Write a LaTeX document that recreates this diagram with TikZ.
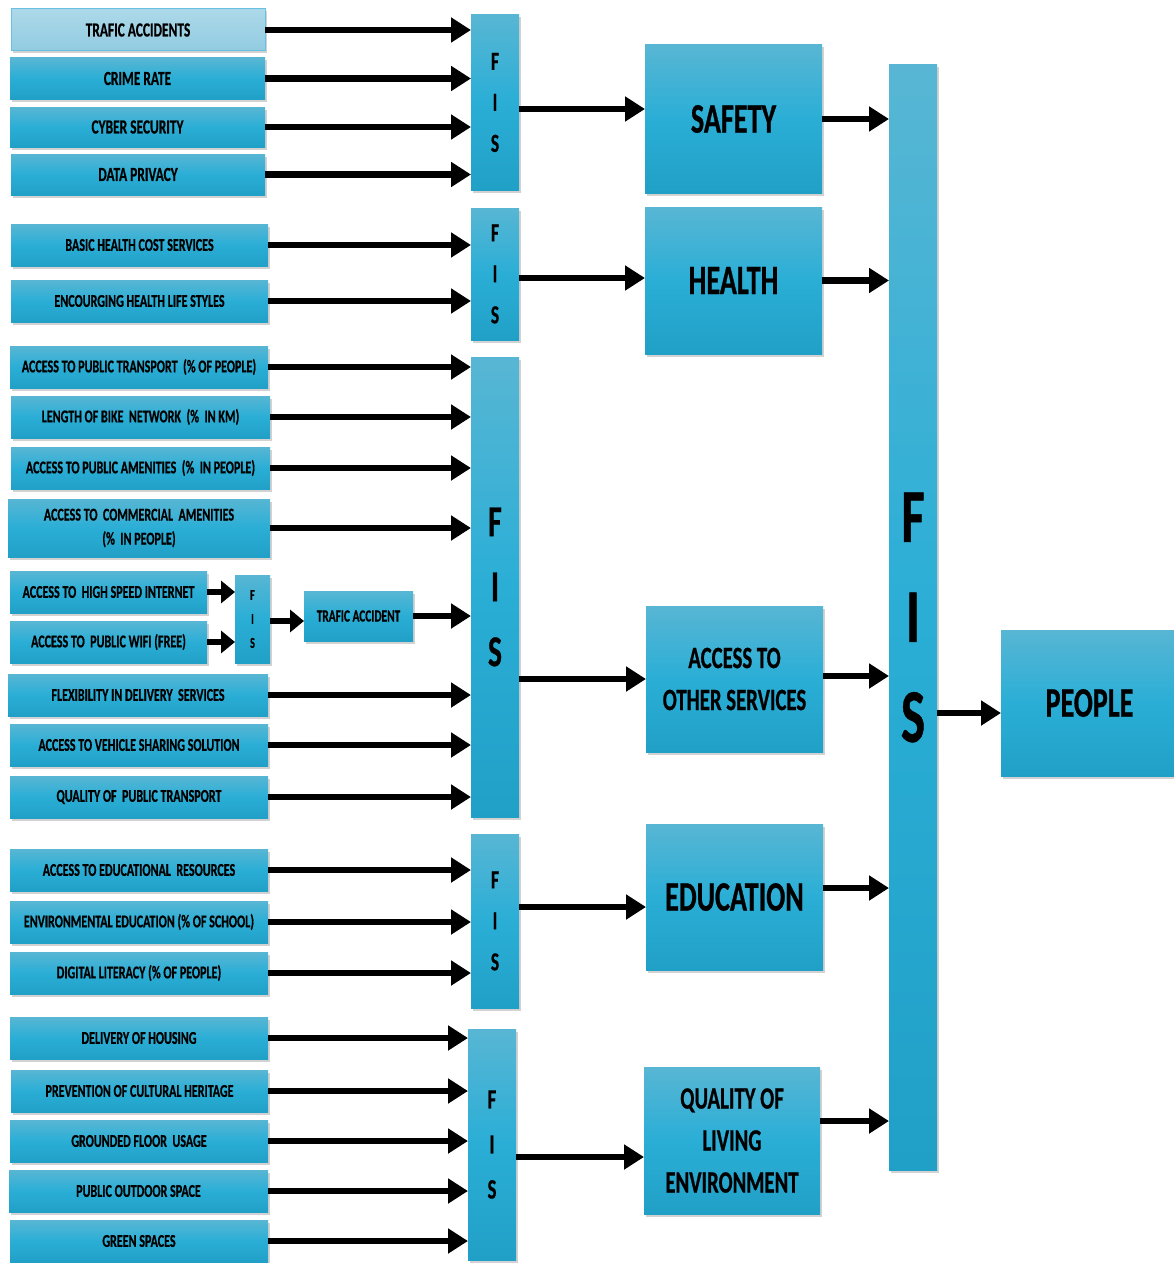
\documentclass[tikz,border=0pt]{standalone}
\usepackage{fontspec}
\setmainfont{Carlito}
\newfontfamily\cf[FakeStretch=0.67,BoldFeatures={FakeBold=0.6}]{Carlito}
\usetikzlibrary{arrows.meta,shadows}
\definecolor{btop}{RGB}{88,182,212}
\definecolor{bmid}{RGB}{42,174,214}
\definecolor{bbot}{RGB}{33,160,199}
\definecolor{ltop}{RGB}{172,217,233}
\definecolor{lbot}{RGB}{146,203,225}
\definecolor{lline}{RGB}{105,193,225}
\newcommand\fz[2]{\fontsize{#1}{#2}\selectfont}
\newcommand\bx[7][]{\node[box,minimum width={(#5)-(#3)},minimum height={(#6)-(#4)},#1] (#2) at ({((#3)+(#5))/2},{((#4)+(#6))/2}) {#7};}
\tikzset{
  box/.style={draw=none,top color=btop,bottom color=bbot,middle color=bmid,
    inner sep=0pt,outer sep=0pt,align=center,font=\cf\bfseries\fz{18}{24},
    drop shadow={shadow xshift=1.5pt,shadow yshift=-2.5pt,opacity=0.35}},
  lightbox/.style={top color=ltop,bottom color=lbot,middle color=ltop!50!lbot,draw=lline,line width=1pt},
  gA/.style={font=\cf\bfseries\fz{20}{24}},
  fisA/.style={font=\cf\bfseries\fz{26}{41}},
  fisB/.style={font=\cf\bfseries\fz{28}{45}},
  fisC/.style={font=\cf\bfseries\fz{44}{65}},
  fisS/.style={font=\cf\bfseries\fz{15}{24}},
  fisBig/.style={font=\cf\bfseries\fz{76}{100}},
  bigbox/.style={font=\cf\bfseries\fz{42}{48}},
  midbox/.style={font=\cf\bfseries\fz{31}{42}},
  arr/.style={line width=6.5pt,-{Triangle[length=20pt,width=24pt]}},
  sarr/.style={line width=6.5pt,-{Triangle[length=14pt,width=22pt]}},
}
\begin{document}
\begin{tikzpicture}[x=1pt,y=-1pt]
\useasboundingbox (0,0) rectangle (1174,1263);
\fill[white] (0,0) rectangle (1174,1263);
% group 1
\bx[gA,lightbox]{g1a}{11}{9}{265}{51}{TRAFIC ACCIDENTS}
\bx[gA]{g1b}{10}{58}{265}{99}{CRIME RATE}
\bx[gA]{g1c}{10}{107}{265}{147}{CYBER SECURITY}
\bx[gA]{g1d}{11}{154}{265}{195}{DATA PRIVACY}
\bx[fisA]{f1}{471}{15}{519}{190}{F\\I\\S}
\bx[bigbox]{safety}{645}{45}{822}{193}{SAFETY}
% group 2
\bx{g2a}{11}{224}{268}{266}{BASIC HEALTH COST SERVICES}
\bx{g2b}{11}{280}{268}{322}{ENCOURGING HEALTH LIFE STYLES}
\bx[fisA]{f2}{471}{208}{519}{340}{F\\I\\S}
\bx[bigbox]{health}{645}{207}{822}{354}{HEALTH}
% group 3
\bx{g3a}{10}{346}{268}{388}{ACCESS TO PUBLIC TRANSPORT\ \ (\% OF PEOPLE)}
\bx{g3b}{11}{396}{270}{438}{LENGTH OF BIKE\ \ NETWORK\ \ (\%\ \ IN KM)}
\bx{g3c}{11}{447}{270}{489}{ACCESS TO PUBLIC AMENITIES\ \ (\%\ \ IN PEOPLE)}
\bx{g3d}{8}{499}{270}{557}{ACCESS TO\ \ COMMERCIAL\ \ AMENITIES\\(\%\ \ IN PEOPLE)}
\bx{g3h}{10}{571}{207}{613}{ACCESS TO\ \ HIGH SPEED INTERNET}
\bx{g3i}{10}{621}{207}{663}{ACCESS TO\ \ PUBLIC WIFI (FREE)}
\bx[fisS]{sf}{235}{575}{270}{663}{F\\I\\S}
\bx[font=\cf\bfseries\fz{17}{20}]{ta}{304}{591}{413}{641}{TRAFIC ACCIDENT}
\bx{g3e}{8}{674}{268}{716}{FLEXIBILITY IN DELIVERY\ \ SERVICES}
\bx{g3f}{10}{724}{268}{766}{ACCESS TO VEHICLE SHARING SOLUTION}
\bx{g3g}{10}{776}{268}{818}{QUALITY OF\ \ PUBLIC TRANSPORT}
\bx[fisC]{f3}{471}{357}{519}{817}{F\\I\\S}
\bx[midbox]{access}{646}{606}{823}{752}{ACCESS TO\\OTHER SERVICES}
% group 4
\bx{g4a}{10}{849}{268}{891}{ACCESS TO EDUCATIONAL\ \ RESOURCES}
\bx{g4b}{10}{901}{268}{943}{ENVIRONMENTAL EDUCATION (\% OF SCHOOL)}
\bx{g4c}{10}{952}{268}{994}{DIGITAL LITERACY (\% OF PEOPLE)}
\bx[fisA]{f4}{471}{834}{519}{1008}{F\\I\\S}
\bx[bigbox]{education}{646}{824}{823}{970}{EDUCATION}
% group 5
\bx{g5a}{10}{1017}{268}{1059}{DELIVERY OF HOUSING}
\bx{g5b}{11}{1070}{268}{1112}{PREVENTION OF CULTURAL HERITAGE}
\bx{g5c}{10}{1120}{268}{1162}{GROUNDED FLOOR\ \ USAGE}
\bx{g5d}{9}{1170}{268}{1212}{PUBLIC OUTDOOR SPACE}
\bx{g5e}{10}{1220}{268}{1262}{GREEN SPACES}
\bx[fisB]{f5}{468}{1029}{516}{1260}{F\\I\\S}
\bx[midbox]{quality}{644}{1067}{820}{1214}{QUALITY OF\\LIVING\\ENVIRONMENT}
% big FIS and people
\bx[fisBig]{bf}{889}{65}{937}{1170}{F\\I\\S}
\bx[bigbox]{people}{1001}{630}{1178}{776}{PEOPLE}
% arrows group 1
\foreach \n in {g1a,g1b,g1c,g1d} \draw[arr] (\n.east) -- (\n.east -| f1.west);
\draw[arr] (f1.east |- 0,109) -- (safety.west |- 0,109);
\draw[arr] (safety.east) -- (safety.east -| bf.west);
% group 2
\foreach \n in {g2a,g2b} \draw[arr] (\n.east) -- (\n.east -| f2.west);
\draw[arr] (f2.east |- 0,278) -- (health.west |- 0,278);
\draw[arr] (health.east) -- (health.east -| bf.west);
% group 3
\foreach \n in {g3a,g3b,g3c,g3d,g3e,g3f,g3g} \draw[arr] (\n.east) -- (\n.east -| f3.west);
\draw[sarr] (g3h.east) -- (g3h.east -| sf.west);
\draw[sarr] (g3i.east) -- (g3i.east -| sf.west);
\draw[sarr] (sf.east |- 0,621) -- (ta.west |- 0,621);
\draw[arr] (ta.east) -- (ta.east -| f3.west);
\draw[arr] (f3.east |- access.west) -- (access.west);
\draw[arr] (access.east |- 0,676) -- (bf.west |- 0,676);
% group 4
\foreach \n in {g4a,g4b,g4c} \draw[arr] (\n.east) -- (\n.east -| f4.west);
\draw[arr] (f4.east |- 0,907) -- (education.west |- 0,907);
\draw[arr] (education.east |- 0,888) -- (bf.west |- 0,888);
% group 5
\foreach \n in {g5a,g5b,g5c,g5d,g5e} \draw[arr] (\n.east) -- (\n.east -| f5.west);
\draw[arr] (f5.east |- 0,1157) -- (quality.west |- 0,1157);
\draw[arr] (quality.east |- 0,1121) -- (bf.west |- 0,1121);
% to people
\draw[arr] (bf.east |- 0,713) -- (people.west |- 0,713);
\end{tikzpicture}
\end{document}
